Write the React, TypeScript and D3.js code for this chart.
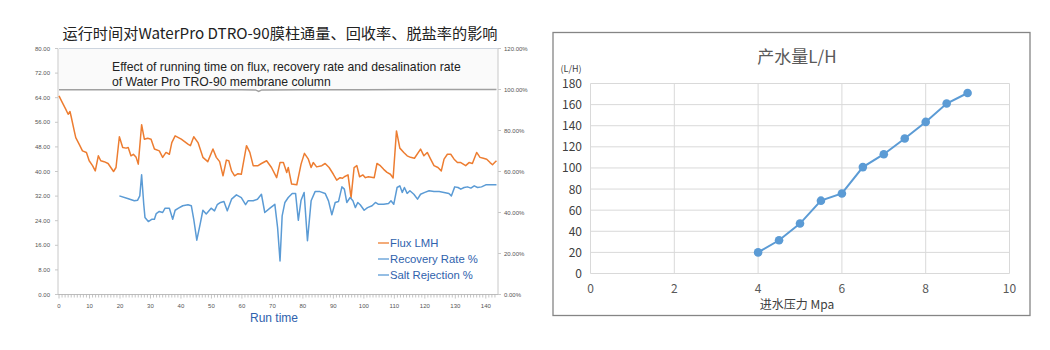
import React from 'react';
import * as d3 from 'd3';

// ---- left chart: running time vs flux / recovery / salt rejection ----
const fluxTime = [0, 1.1, 2.2, 3, 3.6, 4, 5, 5.5, 6.6, 7.7, 9, 9.9, 11, 11.9, 12.9, 13.7, 14.8, 16.1, 17, 17.9, 18.7, 19.8, 20.9, 22, 22.7, 23.6, 24.4, 25.3, 26, 27.1, 28, 29.1, 30.2, 31.3, 32.9, 34, 35.1, 36.2, 37, 38.1, 40.1, 42.3, 43.1, 44.2, 45.6, 47.2, 48.8, 50.5, 51.6, 52.7, 53.8, 54.9, 55.7, 56.6, 57.6, 58.7, 59.8, 61.5, 62.6, 63.7, 65.3, 66.4, 68.1, 69.7, 71.4, 72.5, 73.6, 74.7, 75.2, 76.3, 78, 79.4, 80.5, 81.8, 82.7, 83.4, 84.5, 86.2, 87.3, 88.6, 90, 91.1, 92.2, 93, 93.6, 94.8, 95.8, 96.8, 97.7, 98.6, 99.7, 100.5, 101.5, 103.4, 104.3, 105.4, 106.5, 107.6, 108.7, 109.6, 110.7, 111.8, 113.1, 114.2, 115.3, 116.6, 118.6, 119.7, 120.8, 121.9, 123, 124.3, 125.4, 126.3, 127.4, 128.5, 129.6, 130.7, 131.8, 133.4, 134.5, 135.6, 137, 138.1, 139.2, 140.3, 141.4, 142.2, 142.9, 143.5];
const fluxLMH = [64.6, 62.4, 60.3, 58.6, 59.5, 57.8, 53.2, 51, 48.9, 46.7, 46.2, 43.5, 41.9, 40.2, 45.1, 43.5, 43.2, 42.6, 41.3, 40, 41.3, 51.3, 47.8, 47.6, 47.8, 45.1, 45.6, 44.6, 42.4, 55.2, 50.5, 50.8, 50.5, 47.3, 46.7, 44.6, 46.2, 45.6, 49.4, 51.6, 50.5, 48.9, 48.4, 51.3, 49.4, 44.6, 43.2, 47.3, 44.6, 43.2, 38.6, 43.7, 43.5, 40.2, 38.6, 39.3, 39.1, 48.4, 46.2, 41.9, 41.9, 42.6, 43.5, 41.3, 38, 42.9, 42.9, 39.7, 41.3, 35.9, 35.7, 42.4, 45.9, 44, 41.3, 42.9, 41.5, 41.9, 42.6, 41.3, 39.1, 37.2, 38, 37.8, 38.3, 38.9, 31.5, 41.3, 41.9, 38.3, 38.9, 38, 38.3, 38, 42.6, 41.9, 40.7, 39.7, 39.1, 37.9, 53.2, 47.6, 46.2, 45.1, 44.6, 44.3, 47.3, 45.1, 46.2, 44, 41.9, 41.3, 40.2, 44, 45.6, 45.6, 44, 42.9, 42.9, 41.9, 42.9, 42.6, 46.2, 44.6, 44.3, 44, 42.9, 42.2, 42.9, 43.5];

const recoveryTime = [19.8, 22.5, 24.7, 25.8, 26.5, 27.1, 27.8, 28.2, 29.3, 30.4, 31.3, 31.9, 32.9, 34, 34.8, 36.2, 37.3, 38.1, 39.2, 40.6, 42.3, 43.4, 44.2, 45.2, 46.3, 47.2, 48.3, 49.9, 51, 51.9, 53, 54.1, 55.2, 56.6, 58.2, 59.8, 61.2, 62, 63.7, 65.1, 66.4, 67.5, 69.2, 70.8, 71.7, 72.5, 73.2, 74.1, 75.2, 76.5, 77.6, 78.5, 79.4, 80.4, 81.5, 82.7, 84, 85.6, 87.3, 88.4, 89.5, 90.6, 91.7, 92.8, 93.6, 94.4, 95.5, 96.4, 97.2, 98, 98.8, 100.1, 101.2, 102.7, 103.8, 104.8, 106.5, 108.1, 108.9, 109.8, 110.9, 111.8, 112.6, 113.3, 114.2, 115.1, 116.4, 117.6, 118.6, 120, 121.4, 123, 124.7, 126.3, 127.9, 128.7, 129.8, 130.9, 131.8, 132.9, 134, 135.1, 136.2, 137.3, 138.6, 140, 141.1, 142.8, 143.5];
const recoveryRate = [48.1, 46.8, 45.7, 46, 48.1, 58.4, 44, 37.6, 35.6, 36.7, 36.7, 39.5, 40.5, 40, 42.1, 42.1, 36.7, 41.1, 42.1, 43.3, 43.8, 43.3, 36.7, 26.5, 34.3, 41.1, 39.3, 42.1, 40.8, 43.8, 44.9, 45.4, 40.8, 46.5, 48.6, 47.3, 43.8, 45.7, 45.7, 46.5, 48.9, 40, 42.1, 44, 32.7, 16.4, 38.4, 44.9, 47.3, 49.3, 49.3, 36.2, 46, 49.8, 26.2, 45.7, 50.2, 50.2, 49.3, 45.7, 38.9, 44.9, 45.4, 52.5, 51.4, 44.9, 47.3, 45.7, 42.4, 44.9, 43.8, 41.1, 42.4, 43.3, 44.9, 44, 44, 44.4, 45.7, 44, 52.2, 53, 49.8, 52.2, 49.3, 50.6, 48.9, 46.5, 48.9, 49.8, 50.6, 50.2, 50.2, 49.8, 49.3, 48.1, 52.5, 52.2, 51.4, 52.2, 52.5, 51.9, 53, 52.2, 52.5, 53.5, 53.5, 53.5, 53.5];

const saltTime = [0, 20, 40, 60, 64.5, 65.5, 66.5, 80, 100, 120, 143.5];
const saltRejection = [99.9, 99.9, 99.9, 99.9, 99.8, 99.1, 99.8, 99.9, 99.9, 100, 100];

const leftTicks = [0, 8, 16, 24, 32, 40, 48, 56, 64, 72, 80];
const rightTicks = [0, 20, 40, 60, 80, 100, 120];
const runTicks = [0, 10, 20, 30, 40, 50, 60, 70, 80, 90, 100, 110, 120, 130, 140];

// ---- right chart: feed pressure vs permeate ----
const pressure = [4, 4.5, 5, 5.5, 6, 6.5, 7, 7.5, 8, 8.5, 9];
const permeate = [20, 31.5, 47.3, 69, 75.8, 100.8, 113, 127.9, 143.6, 161, 171];
const pressureTicks = [0, 2, 4, 6, 8, 10];
const permeateTicks = [0, 20, 40, 60, 80, 100, 120, 140, 160, 180];

const ORANGE = '#ed7d31';
const BLUE = '#5b9bd5';
const GREY = '#a0a0a0';
const LEG_BLUE = '#2f62ad';
const SANS = '"Liberation Sans", Arial, sans-serif';
const CJK = '"Noto Sans CJK SC", "Noto Sans", sans-serif';

const LeftChart: React.FC = () => {
  const x = d3.scaleLinear().domain([0, 144]).range([59, 498]);
  const yL = d3.scaleLinear().domain([0, 80]).range([294.5, 48.5]);
  const yR = d3.scaleLinear().domain([0, 120]).range([294.5, 48.5]);

  const fluxLine = d3.line<number>().x((_, i) => x(fluxTime[i])).y((d) => yL(d))(fluxLMH) || '';
  const recLine = d3.line<number>().x((_, i) => x(recoveryTime[i])).y((d) => yR(d))(recoveryRate) || '';
  const saltLine = d3.line<number>().x((_, i) => x(saltTime[i])).y((d) => yR(d))(saltRejection) || '';
  const minor = d3.range(0, 144, 1);

  return (
    <g>
      <text x={280} y={39} textAnchor="middle" fontFamily={CJK} fontSize={15.2} fill="#222">
        运行时间对WaterPro DTRO-90膜柱通量、回收率、脱盐率的影响
      </text>
      {/* text box behind the English subtitle */}
      <rect x={59} y={49} width={439} height={40} fill="#fafafa" />
      <line x1={59} x2={498} y1={48.5} y2={48.5} stroke="#cdd5df" />
      <text x={112} y={71} fontFamily={SANS} fontSize={12.2} fill="#222">
        Effect of running time on flux, recovery rate and desalination rate
      </text>
      <text x={112} y={86} fontFamily={SANS} fontSize={12.2} fill="#222">
        of Water Pro TRO-90 membrane column
      </text>

      {/* axes */}
      <line x1={58} x2={58} y1={48.5} y2={294.5} stroke="#c8c8c8" />
      <line x1={498} x2={498} y1={48.5} y2={294.5} stroke="#c8c8c8" />
      <line x1={58} x2={498} y1={294.5} y2={294.5} stroke="#bdbdbd" />
      {minor.map((t) => (
        <line key={t} x1={x(t)} x2={x(t)} y1={294.5} y2={t % 10 === 0 ? 298.5 : 297.5} stroke="#b5b5b5" strokeWidth={0.8} />
      ))}
      {leftTicks.map((v) => (
        <g key={'l' + v}>
          <line x1={55} x2={58} y1={yL(v)} y2={yL(v)} stroke="#c8c8c8" />
          <text x={50} y={yL(v) + 2} textAnchor="end" fontFamily={SANS} fontSize={6} fill="#555">
            {v.toFixed(2)}
          </text>
        </g>
      ))}
      {rightTicks.map((v) => (
        <g key={'r' + v}>
          <line x1={498} x2={501} y1={yR(v)} y2={yR(v)} stroke="#c8c8c8" />
          <text x={504} y={yR(v) + 2} fontFamily={SANS} fontSize={6} fill="#555">
            {v.toFixed(2) + '%'}
          </text>
        </g>
      ))}
      {runTicks.map((t) => (
        <text key={'x' + t} x={x(t)} y={308} textAnchor="middle" fontFamily={SANS} fontSize={6} fill="#555">
          {t}
        </text>
      ))}

      {/* series */}
      <path d={saltLine} fill="none" stroke={GREY} strokeWidth={1.5} />
      <path d={fluxLine} fill="none" stroke={ORANGE} strokeWidth={1.5} strokeLinejoin="round" />
      <path d={recLine} fill="none" stroke={BLUE} strokeWidth={1.5} strokeLinejoin="round" />

      {/* legend */}
      {[
        { label: 'Flux LMH', color: ORANGE, y: 243 },
        { label: 'Recovery Rate %', color: BLUE, y: 259 },
        { label: 'Salt Rejection %', color: BLUE, y: 275 },
      ].map((d) => (
        <g key={d.label}>
          <line x1={378} x2={389} y1={d.y} y2={d.y} stroke={d.color} strokeWidth={1.3} />
          <text x={390} y={d.y + 4} fontFamily={SANS} fontSize={11.3} fill={LEG_BLUE}>
            {d.label}
          </text>
        </g>
      ))}

      <text x={274} y={322} textAnchor="middle" fontFamily={SANS} fontSize={12} fill={LEG_BLUE}>
        Run time
      </text>
    </g>
  );
};

const RightChart: React.FC = () => {
  const x = d3.scaleLinear().domain([0, 10]).range([590.5, 1009.5]);
  const y = d3.scaleLinear().domain([0, 180]).range([273.5, 83.5]);
  const line = d3.line<number>().x((_, i) => x(pressure[i])).y((d) => y(d))(permeate) || '';

  return (
    <g>
      <rect x={553} y={32.5} width={477} height={283} fill="#fff" stroke="#858585" strokeWidth={1.3} />
      <text x={797} y={63} textAnchor="middle" fontFamily={CJK} fontSize={17} fill="#595959">
        产水量L/H
      </text>
      <text x={571} y={72} textAnchor="middle" fontFamily={CJK} fontSize={9} fill="#404040">
        (L/H)
      </text>
      {permeateTicks.map((v) => (
        <g key={'h' + v}>
          <line x1={x(0)} x2={x(10)} y1={y(v)} y2={y(v)} stroke="#d9d9d9" strokeWidth={1} />
          <text x={582} y={y(v) + 4.5} textAnchor="end" fontFamily={CJK} fontSize={12} fill="#404040">
            {v}
          </text>
        </g>
      ))}
      {pressureTicks.map((v) => (
        <g key={'v' + v}>
          <line x1={x(v)} x2={x(v)} y1={y(0)} y2={y(180)} stroke="#d9d9d9" strokeWidth={1} />
          <text x={x(v)} y={293} textAnchor="middle" fontFamily={CJK} fontSize={12} fill="#595959">
            {v}
          </text>
        </g>
      ))}
      <text x={797} y={309} textAnchor="middle" fontFamily={CJK} fontSize={12} fill="#404040">
        进水压力 Mpa
      </text>
      <path d={line} fill="none" stroke={BLUE} strokeWidth={2} />
      {permeate.map((v, i) => (
        <circle key={i} cx={x(pressure[i])} cy={y(v)} r={4.3} fill={BLUE} />
      ))}
    </g>
  );
};

export default function App() {
  return (
    <svg width={1050} height={350} style={{ position: 'absolute', left: 0, top: 0 }}>
      <rect width={1050} height={350} fill="#fff" />
      <LeftChart />
      <RightChart />
    </svg>
  );
}
